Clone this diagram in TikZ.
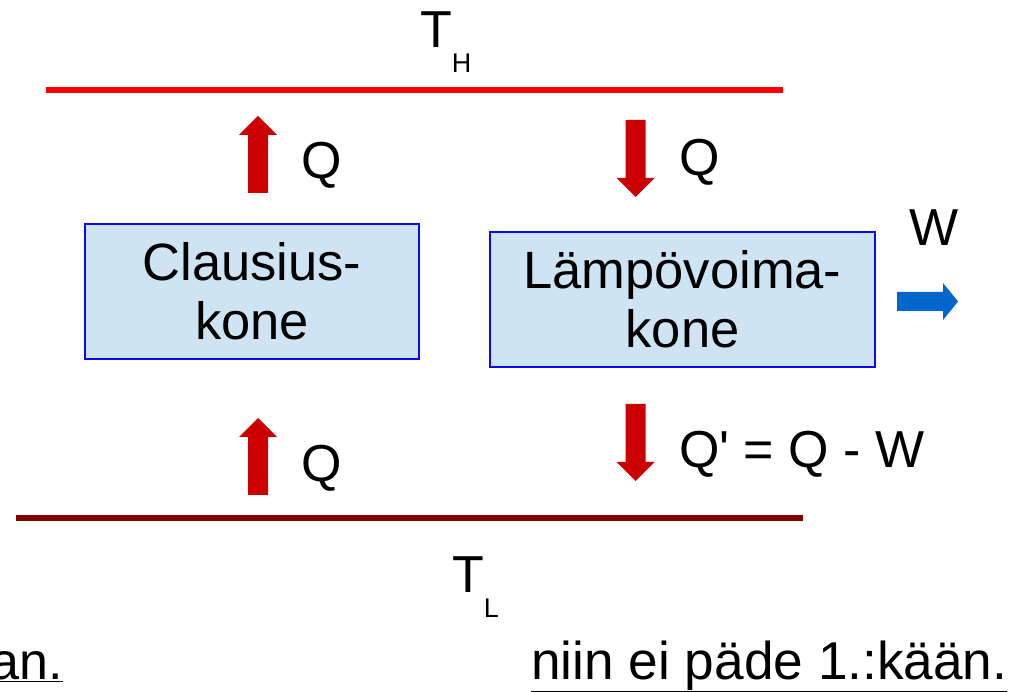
\documentclass[tikz,border=0pt]{standalone}
\usepackage{fontspec}
\setmainfont{Liberation Sans}
\definecolor{hotred}{HTML}{FF0000}
\definecolor{coldred}{HTML}{800000}
\definecolor{arrred}{HTML}{CC0000}
\definecolor{boxfill}{HTML}{CFE4F2}
\definecolor{boxline}{HTML}{0A0AF5}
\definecolor{workblue}{HTML}{0066CC}
\begin{document}
\begin{tikzpicture}[x=1pt,y=-1pt,
  big/.style={font=\fontsize{52}{60}\selectfont, inner sep=0pt},
  engine/.style={draw=boxline, line width=2.6pt, fill=boxfill, minimum width=334pt, minimum height=135pt, align=center, font=\fontsize{52.5}{59}\selectfont, inner sep=0pt},
  reservoir/.style={line width=6pt},
  heatarrow/.pic={\fill[arrred] (0,0) -- (19,19) -- (10,19) -- (10,77) -- (-10,77) -- (-10,19) -- (-19,19) -- cycle;},
  workarrow/.pic={\fill[workblue] (0,0) -- (-15,-18.5) -- (-15,-9.5) -- (-61,-9.5) -- (-61,9.5) -- (-15,9.5) -- (-15,18.5) -- cycle;}
]
\useasboundingbox (0,0) rectangle (1013,692);
% reservoirs
\coordinate (hotL) at (46,90);
\coordinate (hotR) at (783,90);
\coordinate (coldL) at (16,518);
\coordinate (coldR) at (803,518);
\draw[reservoir, hotred] (hotL) -- (hotR);
\draw[reservoir, coldred] (coldL) -- (coldR);
\node[big, anchor=base west] (TH) at (420,48) {T\raisebox{-0.9ex}{\fontsize{27}{30}\selectfont H}};
\node[big, anchor=base west] (TL) at (452,593) {T\raisebox{-0.9ex}{\fontsize{27}{30}\selectfont L}};
% engines
\node[engine] (clausius) at (252,291.5) {Clausius-\\kone};
\node[engine, minimum width=385pt, minimum height=135pt] (heat) at (682.5,299.5) {Lämpövoima-\\kone};
% heat arrows
\pic at (258,116) {heatarrow};
\pic at (258,418) {heatarrow};
\pic[rotate=180] at (635.5,197) {heatarrow};
\pic[rotate=180] at (635.5,481) {heatarrow};
\node[big, anchor=base west] (q1) at (301,179) {Q};
\node[big, anchor=base west] (q2) at (301,482) {Q};
\node[big, anchor=base west] (q3) at (679,176) {Q};
\node[big, anchor=base west] (q4) at (679,468) {Q\textquotesingle{} = Q - W};
% work
\pic at (958,301.5) {workarrow};
\node[big, anchor=base west] (w) at (909,246) {W};
% bottom texts
\node[big, anchor=base east] (leftcut) at (63,679) {\underline{an.}};
\node[big, anchor=base west, font=\fontsize{53.2}{60}\selectfont] (right) at (531,679) {\underline{niin ei päde 1.:kään.}};
\end{tikzpicture}
\end{document}
